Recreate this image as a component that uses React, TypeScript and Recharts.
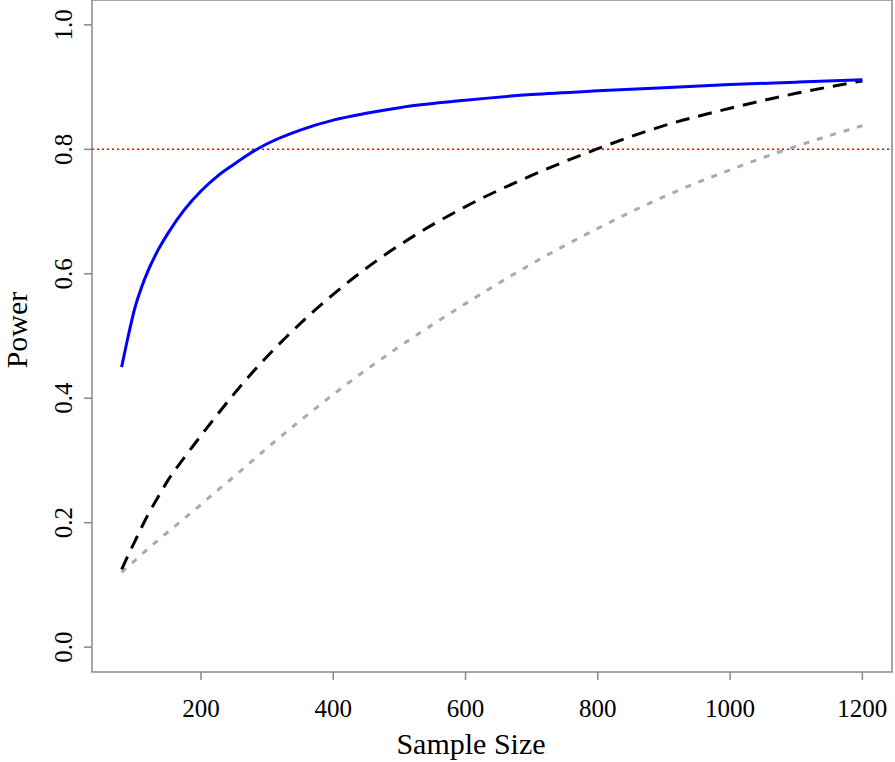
import React from 'react';
import { LineChart, Line, XAxis, YAxis, ReferenceLine, ReferenceArea, Label } from 'recharts';

const sampleSizes = [80, 90, 100, 110, 120, 135, 150, 175, 200, 225, 250, 275, 300, 350, 400, 450, 500, 600, 700, 800, 900, 1000, 1100, 1200];
const powerBlue = [0.45, 0.5, 0.545, 0.578, 0.605, 0.638, 0.665, 0.703, 0.733, 0.757, 0.776, 0.794, 0.809, 0.831, 0.847, 0.858, 0.867, 0.879, 0.888, 0.894, 0.899, 0.904, 0.908, 0.912];
const powerBlack = [0.125, 0.148, 0.17, 0.192, 0.213, 0.241, 0.268, 0.305, 0.34, 0.374, 0.407, 0.438, 0.467, 0.52, 0.567, 0.609, 0.646, 0.708, 0.758, 0.801, 0.838, 0.866, 0.89, 0.91];
const powerGray = [0.12, 0.13, 0.139, 0.149, 0.158, 0.172, 0.185, 0.207, 0.229, 0.252, 0.274, 0.297, 0.32, 0.364, 0.406, 0.446, 0.483, 0.552, 0.616, 0.673, 0.724, 0.767, 0.805, 0.838];

const xTicks = [200, 400, 600, 800, 1000, 1200];
const yTicks = [0, 0.2, 0.4, 0.6, 0.8, 1.0];
const xDomain: [number, number] = [35.2, 1244.8];
const yDomain: [number, number] = [-0.04, 1.04];

const rows = sampleSizes.map((n, i) => ({
    n,
    blue: powerBlue[i],
    black: powerBlack[i],
    gray: powerGray[i],
}));

const FONT = '"Liberation Serif", "Times New Roman", serif';

// x tick labels sit well below the tick marks, like R's default mgp
const XTick = ({ x, y, payload }: any) => (
    <text x={x} y={y + 35} textAnchor="middle" fontSize={25} fontFamily={FONT} fill="#000">
        {payload.value}
    </text>
);

// y tick labels are rotated, reading bottom to top
const YTick = ({ x, y, payload }: any) => (
    <text
        x={x - 10}
        y={y}
        transform={`rotate(-90, ${x - 10}, ${y})`}
        textAnchor="middle"
        fontSize={25}
        fontFamily={FONT}
        fill="#000"
    >
        {Number(payload.value).toFixed(1)}
    </text>
);

const App: React.FC = () => {
    return (
        <div style={{ position: 'absolute', left: 0, top: 0, width: 895, height: 762, background: '#fff' }}>
            <LineChart width={895} height={762} data={rows} margin={{ top: 0, right: 3, bottom: 0, left: 0 }}>
                <XAxis
                    dataKey="n"
                    type="number"
                    domain={xDomain}
                    ticks={xTicks}
                    axisLine={false}
                    tickSize={8}
                    tickLine={{ stroke: '#888', strokeWidth: 1.5 }}
                    tick={<XTick />}
                    height={90}
                    allowDataOverflow
                >
                    <Label
                        content={() => (
                            <text x={471} y={754} textAnchor="middle" fontSize={30} fontFamily={FONT} fill="#000">
                                Sample Size
                            </text>
                        )}
                    />
                </XAxis>
                <YAxis
                    type="number"
                    domain={yDomain}
                    ticks={yTicks}
                    axisLine={false}
                    tickSize={8}
                    tickLine={{ stroke: '#888', strokeWidth: 1.5 }}
                    tick={<YTick />}
                    width={92}
                    allowDataOverflow
                >
                    <Label
                        content={() => (
                            <text
                                x={27}
                                y={330}
                                transform="rotate(-90, 27, 330)"
                                textAnchor="middle"
                                fontSize={30}
                                fontFamily={FONT}
                                fill="#000"
                            >
                                Power
                            </text>
                        )}
                    />
                </YAxis>
                <ReferenceArea
                    x1={xDomain[0]}
                    x2={xDomain[1]}
                    y1={yDomain[0]}
                    y2={yDomain[1]}
                    fill="none"
                    fillOpacity={0}
                    stroke="#888"
                    strokeWidth={1.5}
                    ifOverflow="visible"
                />
                <ReferenceLine y={0.8} stroke="#FF0000" strokeWidth={1.5} strokeDasharray="2 3" />
                <Line type="monotone" dataKey="gray" stroke="#AAAAAA" strokeWidth={3} strokeDasharray="6 8" dot={false} isAnimationActive={false} />
                <Line type="monotone" dataKey="black" stroke="#000000" strokeWidth={3} strokeDasharray="14 9" dot={false} isAnimationActive={false} />
                <Line type="monotone" dataKey="blue" stroke="#0000FF" strokeWidth={3} dot={false} isAnimationActive={false} />
            </LineChart>
        </div>
    );
};

export default App;
